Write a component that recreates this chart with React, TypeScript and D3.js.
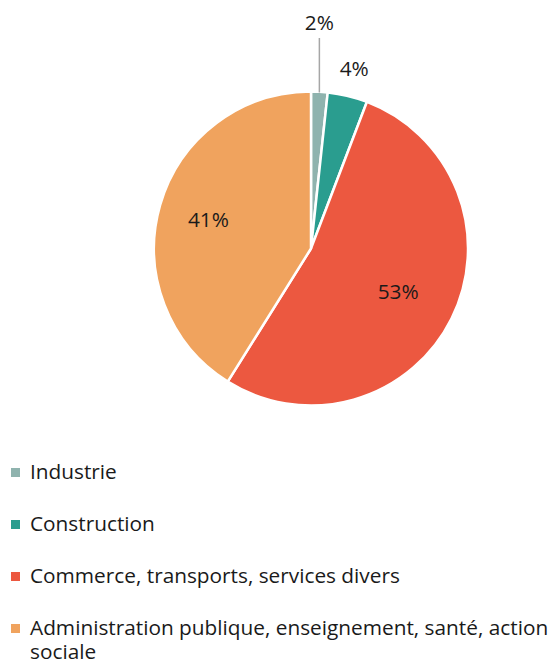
import React from "react";
import * as d3 from "d3";

const categories = [
  "Industrie",
  "Construction",
  "Commerce, transports, services divers",
  "Administration publique, enseignement, santé, action sociale",
];
const values = [1.7, 4.1, 53.1, 41.1];
const colors = ["#8fb3ae", "#2a9d8f", "#ec5840", "#f0a35e"];
const legendLines = [
  ["Industrie"],
  ["Construction"],
  ["Commerce, transports, services divers"],
  ["Administration publique, enseignement, santé, action", "sociale"],
];

const W = 556;
const H = 663;
const FONT = "'Open Sans', 'Noto Sans', sans-serif";
const FS = 20.8;

export default function App() {
  const cx = 311;
  const cy = 248.5;
  const r = 157;
  const total = d3.sum(values);
  const pie = d3.pie<number>().sort(null).value((d) => d);
  const arcs = pie(values);
  const arcGen = d3.arc<d3.PieArcDatum<number>>().innerRadius(0).outerRadius(r);

  const labelPos = (i: number, a: d3.PieArcDatum<number>) => {
    const mid = (a.startAngle + a.endAngle) / 2;
    if (i === 0) {
      return { x: cx + Math.sin(mid) * r, y: 30, leader: true };
    }
    let rr = r * 0.62;
    if (i === 1) rr = r + 28;
    if (i === 3) rr = r * 0.68;
    return { x: cx + Math.sin(mid) * rr, y: cy - Math.cos(mid) * rr + 7.5, leader: false };
  };

  return (
    <svg width={W} height={H} style={{ position: "absolute", left: 0, top: 0 }}>
      <rect width={W} height={H} fill="#ffffff" />
      <g transform={`translate(${cx},${cy})`}>
        {arcs.map((a, i) => (
          <path key={i} d={arcGen(a) || ""} fill={colors[i]} stroke="#ffffff" strokeWidth={2.5} strokeLinejoin="round" />
        ))}
      </g>
      {arcs.map((a, i) => {
        const p = labelPos(i, a);
        const pct = Math.round((values[i] / total) * 100) + "%";
        return (
          <g key={i}>
            {p.leader && (
              <line x1={p.x} y1={38} x2={p.x} y2={cy - r + 1} stroke="#a6a6a6" strokeWidth={1.5} />
            )}
            <text x={p.x} y={p.y} textAnchor="middle" fontFamily={FONT} fontSize={FS} fill="#1a1a1a">
              {pct}
            </text>
          </g>
        );
      })}
      {categories.map((c, i) => {
        const base = 479 + i * 52;
        return (
          <g key={c}>
            <rect x={11} y={base - 11} width={9} height={9} fill={colors[i]} />
            {legendLines[i].map((ln, j) => (
              <text key={j} x={30} y={base + j * 24} fontFamily={FONT} fontSize={FS} fill="#1a1a1a">
                {ln}
              </text>
            ))}
          </g>
        );
      })}
    </svg>
  );
}
